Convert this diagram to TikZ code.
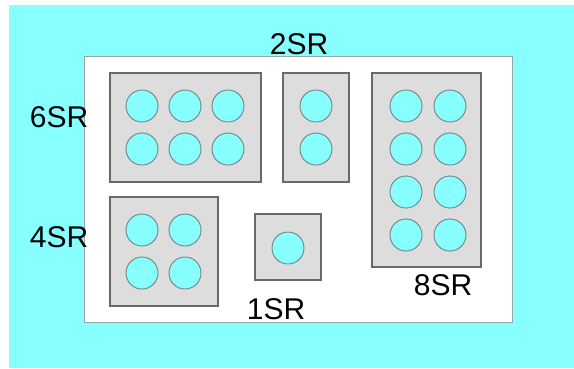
\documentclass[tikz,border=0pt]{standalone}
\usepackage{fontspec}
\setmainfont{Liberation Sans}
\definecolor{aqua}{RGB}{136,255,255}
\definecolor{traygray}{RGB}{221,221,221}
\definecolor{edgegray}{RGB}{105,105,105}
\definecolor{wellgray}{RGB}{115,130,130}
\definecolor{plategray}{RGB}{150,165,165}
\begin{document}
\begin{tikzpicture}[x=1pt, y=-1pt]
        % Define styles
        \tikzstyle{tray} = [rectangle, draw=edgegray, line width=1.5pt, fill=traygray, inner sep=0pt]
        \tikzstyle{well} = [circle, draw=wellgray, line width=0.9pt, fill=aqua, minimum size=32pt, inner sep=0pt]
        \tikzstyle{tag} = [inner sep=0pt, font=\fontsize{30}{36}\selectfont]

        \useasboundingbox (0,0) rectangle (574,368);
        % Background and plate
        \fill [aqua] (9,5) rectangle (574,368);
        \draw [fill=white, draw=plategray] (84,56) rectangle (512,322);

        % Trays
        \node (tray6) [tray, minimum width=151pt, minimum height=109pt] at (185.5,127.5) {};
        \node (tray2) [tray, minimum width=66pt, minimum height=109pt] at (316,127.5) {};
        \node (tray8) [tray, minimum width=109pt, minimum height=194pt] at (426.5,170) {};
        \node (tray4) [tray, minimum width=108pt, minimum height=109pt] at (164,251.5) {};
        \node (tray1) [tray, minimum width=66pt, minimum height=66pt] at (288,247) {};

        % Wells
        \node (w6a) [well] at (142,106) {};
        \node (w6b) [well] at (185,106) {};
        \node (w6c) [well] at (228,106) {};
        \node (w6d) [well] at (142,149) {};
        \node (w6e) [well] at (185,149) {};
        \node (w6f) [well] at (228,149) {};
        \node (w2a) [well] at (316,106) {};
        \node (w2b) [well] at (316,149) {};
        \node (w8a) [well] at (406,106) {};
        \node (w8b) [well] at (450,106) {};
        \node (w8c) [well] at (406,149) {};
        \node (w8d) [well] at (450,149) {};
        \node (w8e) [well] at (406,192) {};
        \node (w8f) [well] at (450,192) {};
        \node (w8g) [well] at (406,235) {};
        \node (w8h) [well] at (450,235) {};
        \node (w4a) [well] at (142,230) {};
        \node (w4b) [well] at (185,230) {};
        \node (w4c) [well] at (142,273) {};
        \node (w4d) [well] at (185,273) {};
        \node (w1a) [well] at (288,248) {};

        % Labels
        \node (lab6) [tag] at (59,117.5) {6SR};
        \node (lab2) [tag] at (299,44) {2SR};
        \node (lab4) [tag] at (59,237.5) {4SR};
        \node (lab1) [tag] at (276,309) {1SR};
        \node (lab8) [tag] at (443,285.5) {8SR};
    \end{tikzpicture}
\end{document}
